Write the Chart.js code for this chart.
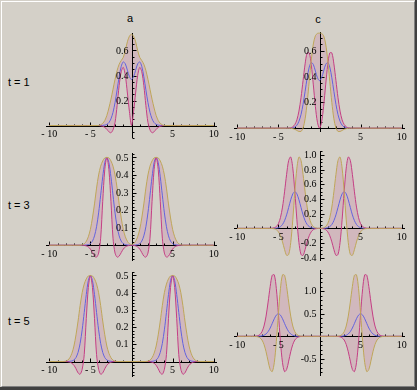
<!DOCTYPE html>
<html>
<head>
<meta charset="utf-8">
<script src="https://cdn.jsdelivr.net/npm/chart.js@4.4.1/dist/chart.umd.min.js"></script>
<style>
  html, body { margin: 0; padding: 0; }
  body { width: 417px; height: 390px; background: #d4d0c8; position: relative; overflow: hidden;
         font-family: "Liberation Sans", Arial, sans-serif; }
  .frame { position: absolute; left: 1px; top: 1px; width: 414px; height: 386px; box-sizing: border-box;
           border-left: 1px solid #fff; border-top: 1px solid #fff;
           border-right: 1px solid #808080; border-bottom: 1px solid #808080; }
  .edgeR { position: absolute; left: 415px; top: 0; width: 2px; height: 390px; background: #404040; }
  .edgeB { position: absolute; left: 0; top: 387px; width: 417px; height: 3px; background: #404040; }
  .lbl { position: absolute; font-size: 11px; line-height: 12px; color: #000; white-space: nowrap;
         transform: translate(-50%, -50%); }
  .row { position: absolute; font-size: 11px; line-height: 12px; color: #000; white-space: nowrap;
         transform: translateY(-50%); }
  canvas { position: absolute; }
</style>
</head>
<body>
<div class="frame"></div>
<div class="edgeR"></div>
<div class="edgeB"></div>

<div class="lbl" style="left:130px;top:18px">a</div>
<div class="lbl" style="left:318px;top:19px">c</div>
<div class="row" style="left:8px;top:82px">t = 1</div>
<div class="row" style="left:8px;top:205px">t = 3</div>
<div class="row" style="left:8px;top:321px">t = 5</div>

<script>
// x grids (shared by both columns of a row)
const xT1 = [-10, -4, -3.75, -3.5, -3.25, -3, -2.75, -2.5, -2.25, -2, -1.75, -1.5, -1.25, -1, -0.75, -0.5, -0.25,
  0, 0.25, 0.5, 0.75, 1, 1.25, 1.5, 1.75, 2, 2.25, 2.5, 2.75, 3, 3.25, 3.5, 3.75, 4, 10];
const xT3 = [-10, -6.25, -6, -5.75, -5.5, -5.25, -5, -4.75, -4.5, -4.25, -4, -3.75, -3.5, -3.25, -3, -2.75, -2.5,
  -2.25, -2, -1.75, -1.5, -1.25, -1, -0.75, -0.5, -0.25, 0, 0.25, 0.5, 0.75, 1, 1.25, 1.5, 1.75, 2, 2.25, 2.5,
  2.75, 3, 3.25, 3.5, 3.75, 4, 4.25, 4.5, 4.75, 5, 5.25, 5.5, 5.75, 6, 6.25, 10];
const xT5 = [-10, -8.25, -8, -7.75, -7.5, -7.25, -7, -6.75, -6.5, -6.25, -6, -5.75, -5.5, -5.25, -5, -4.75, -4.5,
  -4.25, -4, -3.75, -3.5, -3.25, -3, -2.75, -2.5, -2.25, -2, -1.75, 0, 1.75, 2, 2.25, 2.5, 2.75, 3, 3.25, 3.5,
  3.75, 4, 4.25, 4.5, 4.75, 5, 5.25, 5.5, 5.75, 6, 6.25, 6.5, 6.75, 7, 7.25, 7.5, 7.75, 8, 8.25, 10];

// t = 1
const aT1Gold = [0, 0, 0.006, 0.017, 0.04, 0.08, 0.14, 0.21, 0.29, 0.37, 0.44, 0.49, 0.52, 0.545, 0.6, 0.67, 0.715,
  0.73, 0.715, 0.67, 0.6, 0.545, 0.52, 0.49, 0.44, 0.37, 0.29, 0.21, 0.14, 0.08, 0.04, 0.017, 0.006, 0, 0];
const aT1Magenta = [0, 0, -0.002, -0.006, -0.015, -0.03, -0.05, -0.058, -0.035, 0.025, 0.16, 0.32, 0.43, 0.465, 0.4, 0.26, 0.11,
  0, 0.11, 0.26, 0.4, 0.465, 0.43, 0.32, 0.16, 0.025, -0.035, -0.058, -0.05, -0.03, -0.015, -0.006, -0.002, 0, 0];
const blueT1 = [0, 0, 0, 0.001, 0.003, 0.009, 0.023, 0.053, 0.105, 0.184, 0.285, 0.39, 0.473, 0.509, 0.493, 0.442, 0.39,
  0.368, 0.39, 0.442, 0.493, 0.509, 0.473, 0.39, 0.285, 0.184, 0.105, 0.053, 0.023, 0.009, 0.003, 0.001, 0, 0, 0];
const cT1Gold = [0, 0, 0, -0.001, -0.004, -0.009, -0.018, -0.026, -0.026, 0, 0.072, 0.198, 0.363, 0.528, 0.652, 0.716, 0.734,
  0.736, 0.734, 0.716, 0.652, 0.528, 0.363, 0.198, 0.072, 0, -0.026, -0.026, -0.018, -0.009, -0.004, -0.001, 0, 0, 0];
const cT1Magenta = [0, 0, 0.001, 0.003, 0.01, 0.028, 0.064, 0.132, 0.236, 0.368, 0.498, 0.583, 0.583, 0.491, 0.335, 0.168, 0.045,
  0, 0.045, 0.168, 0.335, 0.491, 0.583, 0.583, 0.498, 0.368, 0.236, 0.132, 0.064, 0.028, 0.01, 0.003, 0.001, 0, 0];

// t = 3
const aT3Gold = [0,
  0, 0.002, 0.008, 0.022, 0.048, 0.09, 0.155, 0.235, 0.325, 0.4, 0.45, 0.48, 0.497, 0.5, 0.497, 0.48, 0.45, 0.4, 0.325, 0.235, 0.155, 0.09, 0.048, 0.022, 0.008,
  0.004,
  0.008, 0.022, 0.048, 0.09, 0.155, 0.235, 0.325, 0.4, 0.45, 0.48, 0.497, 0.5, 0.497, 0.48, 0.45, 0.4, 0.325, 0.235, 0.155, 0.09, 0.048, 0.022, 0.008, 0.002, 0,
  0];
const aT3Magenta = [0,
  0, 0, -0.001, -0.004, -0.01, -0.022, -0.042, -0.062, -0.068, -0.045, 0.04, 0.25, 0.43, 0.5, 0.43, 0.25, 0.04, -0.045, -0.068, -0.062, -0.042, -0.022, -0.01, -0.004, -0.001,
  0,
  -0.001, -0.004, -0.01, -0.022, -0.042, -0.062, -0.068, -0.045, 0.04, 0.25, 0.43, 0.5, 0.43, 0.25, 0.04, -0.045, -0.068, -0.062, -0.042, -0.022, -0.01, -0.004, -0.001, 0, 0,
  0];
const blueT3 = [0,
  0, 0, 0, 0.001, 0.003, 0.009, 0.023, 0.053, 0.105, 0.184, 0.285, 0.389, 0.47, 0.5, 0.47, 0.389, 0.285, 0.184, 0.105, 0.053, 0.023, 0.009, 0.003, 0.001, 0,
  0,
  0, 0.001, 0.003, 0.009, 0.023, 0.053, 0.105, 0.184, 0.285, 0.389, 0.47, 0.5, 0.47, 0.389, 0.285, 0.184, 0.105, 0.053, 0.023, 0.009, 0.003, 0.001, 0, 0, 0,
  0];
const cT3Gold = [0,
  0, 0, -0.002, -0.006, -0.018, -0.046, -0.1, -0.184, -0.288, -0.368, -0.356, -0.195, 0.117, 0.5, 0.822, 0.974, 0.926, 0.736, 0.498, 0.29, 0.146, 0.064, 0.025, 0.008, 0.002,
  0.001,
  0.002, 0.008, 0.025, 0.064, 0.146, 0.29, 0.498, 0.736, 0.926, 0.974, 0.822, 0.5, 0.117, -0.195, -0.356, -0.368, -0.288, -0.184, -0.1, -0.046, -0.018, -0.006, -0.002, 0, 0,
  0];
const cT3Magenta = [0,
  0, 0.001, 0.002, 0.008, 0.025, 0.064, 0.146, 0.29, 0.498, 0.736, 0.926, 0.974, 0.822, 0.5, 0.117, -0.195, -0.356, -0.368, -0.288, -0.184, -0.1, -0.046, -0.018, -0.006, -0.002,
  0,
  -0.002, -0.006, -0.018, -0.046, -0.1, -0.184, -0.288, -0.368, -0.356, -0.195, 0.117, 0.5, 0.822, 0.974, 0.926, 0.736, 0.498, 0.29, 0.146, 0.064, 0.025, 0.008, 0.002, 0.001, 0,
  0];

// t = 5
const aT5Gold = [0,
  0, 0.002, 0.008, 0.022, 0.048, 0.09, 0.155, 0.235, 0.325, 0.4, 0.45, 0.48, 0.497, 0.5, 0.497, 0.48, 0.45, 0.4, 0.325, 0.235, 0.155, 0.09, 0.048, 0.022, 0.008, 0.002, 0,
  0,
  0, 0.002, 0.008, 0.022, 0.048, 0.09, 0.155, 0.235, 0.325, 0.4, 0.45, 0.48, 0.497, 0.5, 0.497, 0.48, 0.45, 0.4, 0.325, 0.235, 0.155, 0.09, 0.048, 0.022, 0.008, 0.002, 0,
  0];
const aT5Magenta = [0,
  0, 0, -0.001, -0.004, -0.01, -0.022, -0.042, -0.066, -0.074, -0.045, 0.04, 0.25, 0.43, 0.5, 0.43, 0.25, 0.04, -0.045, -0.074, -0.066, -0.042, -0.022, -0.01, -0.004, -0.001, 0, 0,
  0,
  0, 0, -0.001, -0.004, -0.01, -0.022, -0.042, -0.066, -0.074, -0.045, 0.04, 0.25, 0.43, 0.5, 0.43, 0.25, 0.04, -0.045, -0.074, -0.066, -0.042, -0.022, -0.01, -0.004, -0.001, 0, 0,
  0];
const blueT5 = [0,
  0, 0, 0, 0.001, 0.003, 0.009, 0.023, 0.053, 0.105, 0.184, 0.285, 0.389, 0.47, 0.5, 0.47, 0.389, 0.285, 0.184, 0.105, 0.053, 0.023, 0.009, 0.003, 0.001, 0, 0, 0,
  0,
  0, 0, 0, 0.001, 0.003, 0.009, 0.023, 0.053, 0.105, 0.184, 0.285, 0.389, 0.47, 0.5, 0.47, 0.389, 0.285, 0.184, 0.105, 0.053, 0.023, 0.009, 0.003, 0.001, 0, 0, 0,
  0];
const cT5Gold = [0,
  0, -0.001, -0.003, -0.011, -0.032, -0.082, -0.181, -0.343, -0.55, -0.736, -0.783, -0.584, -0.117, 0.5, 1.057, 1.363, 1.353, 1.104, 0.76, 0.448, 0.228, 0.101, 0.039, 0.013, 0.004, 0.001, 0,
  0,
  0, 0.001, 0.004, 0.013, 0.039, 0.101, 0.228, 0.448, 0.76, 1.104, 1.353, 1.363, 1.057, 0.5, -0.117, -0.584, -0.783, -0.736, -0.55, -0.343, -0.181, -0.082, -0.032, -0.011, -0.003, -0.001, 0,
  0];
const cT5Magenta = [0,
  0, 0.001, 0.004, 0.013, 0.039, 0.101, 0.228, 0.448, 0.76, 1.104, 1.353, 1.363, 1.057, 0.5, -0.117, -0.584, -0.783, -0.736, -0.55, -0.343, -0.181, -0.082, -0.032, -0.011, -0.003, -0.001, 0,
  0,
  0, -0.001, -0.003, -0.011, -0.032, -0.082, -0.181, -0.343, -0.55, -0.736, -0.783, -0.584, -0.117, 0.5, 1.057, 1.363, 1.353, 1.104, 0.76, 0.448, 0.228, 0.101, 0.039, 0.013, 0.004, 0.001, 0,
  0];

// tick labels
const xTickLabels = [-10, -5, 5, 10];
const yTicksA1 = [0.2, 0.4, 0.6];
const yTicksC1 = [0.2, 0.4, 0.6];
const yTicksA3 = [0.1, 0.2, 0.3, 0.4, 0.5];
const yTicksC3 = [-0.4, -0.2, 0.2, 0.4, 0.6, 0.8, 1.0];
const yTicksA5 = [0.1, 0.2, 0.3, 0.4, 0.5];
const yTicksC5 = [-0.5, 0.5, 1.0];

const GOLD = 'rgb(190,166,88)', MAGENTA = 'rgb(196,62,132)', BLUE = 'rgb(98,98,222)';
const PINK = 'rgba(200,100,150,0.22)';
const PAD = 18;

// Mathematica-like axes through the origin, ticks pointing into the plot
const mmaAxes = {
  id: 'mmaAxes',
  beforeDatasetsDraw(chart, args, opts) {
    const ctx = chart.ctx, sx = chart.scales.x, sy = chart.scales.y;
    const ax = Math.round(sx.getPixelForValue(0)) + 0.5;
    const ay = Math.round(sy.getPixelForValue(0)) + 0.5;
    ctx.save();
    ctx.strokeStyle = '#000';
    ctx.lineWidth = 1;
    ctx.beginPath();
    ctx.moveTo(sx.left, ay); ctx.lineTo(sx.right, ay);
    ctx.moveTo(ax, sy.top); ctx.lineTo(ax, sy.bottom);
    for (let k = Math.ceil(sx.min); k <= Math.floor(sx.max); k++) {
      if (k === 0) continue;
      const px = Math.round(sx.getPixelForValue(k)) + 0.5;
      ctx.moveTo(px, ay); ctx.lineTo(px, ay - (k % 5 === 0 ? 4 : 2));
    }
    const n0 = Math.ceil(sy.min / opts.yMinor - 1e-9), n1 = Math.floor(sy.max / opts.yMinor + 1e-9);
    for (let k = n0; k <= n1; k++) {
      if (k === 0) continue;
      const v = k * opts.yMinor;
      const major = opts.yTicks.some(t => Math.abs(t - v) < 1e-6);
      const py = Math.round(sy.getPixelForValue(v)) + 0.5;
      ctx.moveTo(ax, py); ctx.lineTo(ax + (major ? 4 : 2), py);
    }
    ctx.stroke();
    ctx.restore();
  },
  afterDatasetsDraw(chart, args, opts) {
    const ctx = chart.ctx, sx = chart.scales.x, sy = chart.scales.y;
    const ax = sx.getPixelForValue(0), ay = sy.getPixelForValue(0);
    ctx.save();
    ctx.fillStyle = '#000';
    ctx.font = '10px "Liberation Serif", "Times New Roman", serif';
    ctx.textAlign = 'center';
    ctx.textBaseline = 'top';
    xTickLabels.forEach(v => {
      ctx.fillText(v < 0 ? '- ' + Math.abs(v) : String(v), sx.getPixelForValue(v), ay + 4);
    });
    ctx.textAlign = 'right';
    ctx.textBaseline = 'middle';
    opts.yTicks.forEach(v => {
      ctx.fillText(v.toFixed(1), ax - 3, sy.getPixelForValue(v) + 0.5);
    });
    ctx.restore();
  }
};

const panels = [
  { left: 46, top: 33, w: 171, h: 105, ymin: -0.1, ymax: 0.74, x: xT1, gold: aT1Gold, magenta: aT1Magenta, blue: blueT1, yTicks: yTicksA1, yMinor: 0.05 },
  { left: 234, top: 32, w: 171, h: 100, ymin: -0.03, ymax: 0.745, x: xT1, gold: cT1Gold, magenta: cT1Magenta, blue: blueT1, yTicks: yTicksC1, yMinor: 0.05 },
  { left: 46, top: 153, w: 171, h: 108, ymin: -0.09, ymax: 0.525, x: xT3, gold: aT3Gold, magenta: aT3Magenta, blue: blueT3, yTicks: yTicksA3, yMinor: 0.02 },
  { left: 234, top: 151, w: 171, h: 110, ymin: -0.445, ymax: 1.055, x: xT3, gold: cT3Gold, magenta: cT3Magenta, blue: blueT3, yTicks: yTicksC3, yMinor: 0.05 },
  { left: 46, top: 272, w: 171, h: 105, ymin: -0.09, ymax: 0.52, x: xT5, gold: aT5Gold, magenta: aT5Magenta, blue: blueT5, yTicks: yTicksA5, yMinor: 0.02 },
  { left: 234, top: 270, w: 171, h: 106, ymin: -0.88, ymax: 1.47, x: xT5, gold: cT5Gold, magenta: cT5Magenta, blue: blueT5, yTicks: yTicksC5, yMinor: 0.1 }
];

function pts(xs, ys) {
  return xs.map((x, i) => ({ x: x, y: ys[i] }));
}

panels.forEach(p => {
  const cv = document.createElement('canvas');
  cv.width = p.w + 2 * PAD;
  cv.height = p.h + 2 * PAD;
  cv.style.left = (p.left - PAD) + 'px';
  cv.style.top = (p.top - PAD) + 'px';
  cv.style.width = cv.width + 'px';
  cv.style.height = cv.height + 'px';
  document.body.appendChild(cv);

  new Chart(cv, {
    type: 'line',
    data: {
      datasets: [
        { data: pts(p.x, p.gold), borderColor: GOLD, backgroundColor: PINK, fill: '+1' },
        { data: pts(p.x, p.magenta), borderColor: MAGENTA, fill: false },
        { data: pts(p.x, p.blue), borderColor: BLUE, fill: false }
      ]
    },
    options: {
      responsive: false,
      animation: false,
      devicePixelRatio: 1,
      layout: { padding: PAD },
      elements: {
        point: { radius: 0, hoverRadius: 0 },
        line: { tension: 0.3, borderWidth: 1 }
      },
      scales: {
        x: { type: 'linear', min: -10.4, max: 10.4, display: false },
        y: { type: 'linear', min: p.ymin, max: p.ymax, display: false }
      },
      plugins: {
        legend: { display: false },
        tooltip: { enabled: false },
        filler: { drawTime: 'beforeDatasetsDraw' },
        mmaAxes: { yTicks: p.yTicks, yMinor: p.yMinor }
      }
    },
    plugins: [mmaAxes]
  });
});
</script>
</body>
</html>
